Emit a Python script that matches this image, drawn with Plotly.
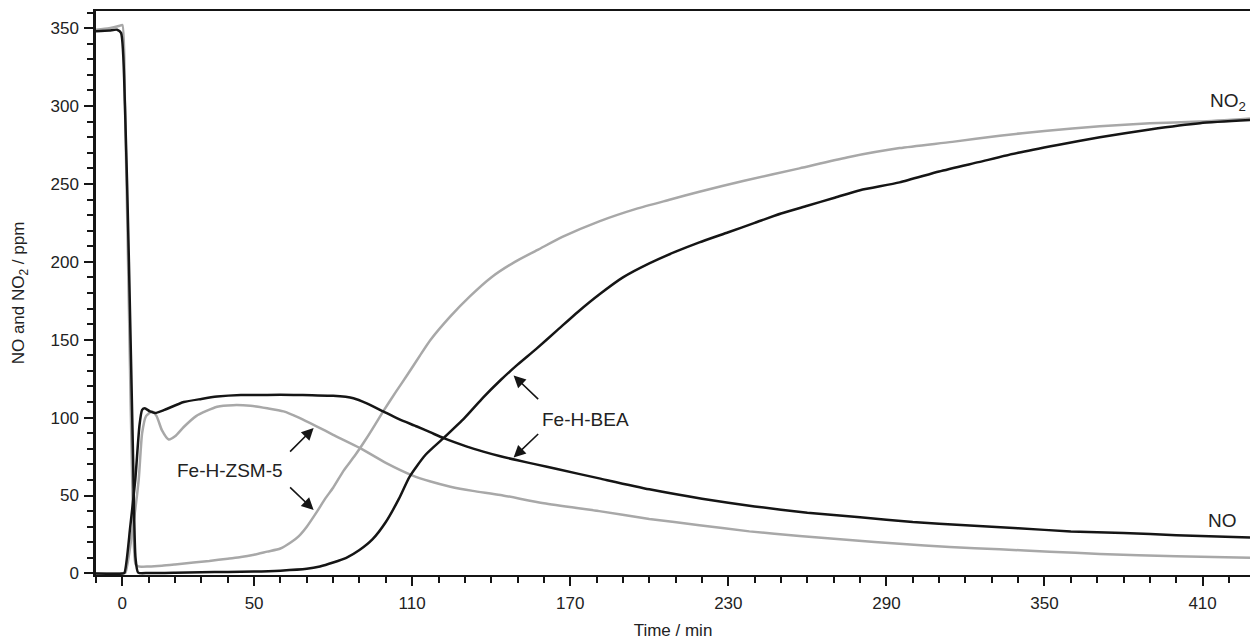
import plotly.graph_objects as go

# ---- data (time in min, concentration in ppm) ----
bea_no2_t = [-10, -5, -2, -0.5, 1, 2.5, 4, 5, 6, 10, 20, 30, 40, 50, 60, 70, 75, 80, 85, 90, 95, 100, 105, 109,
             115, 122, 130, 137, 143.5, 150, 157, 165, 173, 181, 190, 200, 210, 219, 230, 240, 250, 260, 270,
             280, 295, 310, 325, 340, 355, 371, 390, 409, 428]
bea_no2_y = [348, 348.5, 349, 347, 300, 200, 80, 10, 0.5, 0.3, 0.5, 0.8, 1, 1.2, 1.8, 3, 4.5, 7, 10, 15, 22, 33, 48, 62,
             76, 87, 100, 113, 124, 134, 144, 156, 168, 179, 190, 199, 206.5, 212.5, 219, 225, 231, 236, 241,
             246, 251, 258, 264, 270, 275, 280, 285, 289, 291]

zsm_no2_t = [-10, -5, -1, 0, 1, 2.5, 4, 5, 6, 10, 15, 20, 27, 33, 40, 45, 50, 55, 60, 64, 67, 70, 74, 77, 80, 84, 88,
             92, 95, 99, 104, 108, 113, 117, 124.5, 132, 140, 149, 158, 167, 181, 195, 208, 219, 236, 257, 275,
             295, 315, 333, 350, 371, 390, 409, 428]
zsm_no2_y = [349, 350, 351.5, 352, 300, 170, 40, 6, 4.5, 4.5, 5, 5.8, 7, 8, 9.5, 10.5, 12, 14, 16, 20, 24, 30, 40, 48,
             55, 66, 75, 85, 93, 104, 117, 127, 140, 150, 165, 178, 190, 200, 208, 216, 226, 234, 240, 245,
             252, 260, 267, 273, 277, 281, 284, 287, 289, 290, 292]

bea_no_t = [-10, 0, 0.8, 3, 4.9, 6.5, 7.5, 8.5, 10.5, 12.5, 16, 23.3, 30, 36, 45, 55, 65, 72, 80, 87.7, 93, 99,
            105, 111.8, 117, 122, 130.8, 137, 143.5, 150, 157, 165, 181, 200, 220, 240, 260, 280, 300, 320,
            340, 360, 380, 400, 428]
bea_no_y = [0, 0, 0.5, 30, 60, 95, 105, 106, 104, 103, 105, 110, 112, 113.5, 114.5, 114.6, 114.6, 114.3, 114, 112.5,
            109, 104, 99, 94.3, 90.5, 86.8, 81.4, 78.2, 75.2, 72.6, 70, 67, 61, 54, 48, 43, 39, 36, 33, 31,
            29, 27, 26, 24.5, 23]

zsm_no_t = [-10, 0, 1.1, 4, 6.2, 7.5, 9, 11.3, 13, 15, 17.6, 20, 23.3, 28, 36, 42, 48.6, 55, 61.2, 67, 73.9, 80,
            90.3, 100, 110, 117, 124.5, 133, 143.5, 160, 181, 200, 219, 238, 257, 276, 295, 314, 333, 352,
            371, 400, 428]
zsm_no_y = [0, 0, 0.3, 30, 60, 90, 101, 104, 101, 92, 86, 88, 94, 101, 107, 108, 107.6, 106, 104, 100, 94.3, 89,
            80.4, 71, 63, 59, 55.7, 53, 50.4, 45, 40, 35, 31, 27, 24, 21.5, 19, 17, 15.5, 14,
            12.5, 11, 10]

x_tickvals = [0, 50, 110, 170, 230, 290, 350, 410]
y_tickvals = [0, 50, 100, 150, 200, 250, 300, 350]

BLACK = "#151515"
GRAY = "#a8a8a8"
FONT = "Arial, Liberation Sans, sans-serif"

fig = go.Figure()
for t, y in [(zsm_no2_t, zsm_no2_y), (zsm_no_t, zsm_no_y)]:
    fig.add_trace(go.Scatter(x=t, y=y, mode="lines", line=dict(color=GRAY, width=2.5, shape="spline", smoothing=0.6),
                             showlegend=False, hoverinfo="skip"))
for t, y in [(bea_no2_t, bea_no2_y), (bea_no_t, bea_no_y)]:
    fig.add_trace(go.Scatter(x=t, y=y, mode="lines", line=dict(color=BLACK, width=2.5, shape="spline", smoothing=0.6),
                             showlegend=False, hoverinfo="skip"))

# text labels
texts = [
    ("Fe-H-ZSM-5", 41, 65.8, 19),
    ("Fe-H-BEA", 175.7, 98.6, 19),
    ("NO", 417.5, 33.7, 19),
    ("NO<sub>2</sub>", 419.5, 302.5, 19),
]
for txt, x, y, s in texts:
    fig.add_annotation(x=x, y=y, text=txt, showarrow=False, xref="x", yref="y",
                       font=dict(family=FONT, size=s, color="#222222"))

# arrows (head, tail)
arrows = [
    ((72.6, 93.3), (63.1, 77.2)),
    ((72.6, 40.8), (63.1, 56.2)),
    ((148.5, 127), (158.4, 111)),
    ((148.5, 74.4), (158.4, 90.4)),
]
for (hx, hy), (tx, ty) in arrows:
    fig.add_annotation(x=hx, y=hy, ax=tx, ay=ty, xref="x", yref="y", axref="x", ayref="y",
                       text="", showarrow=True, arrowhead=2, arrowsize=1.5, arrowwidth=1.6,
                       arrowcolor="#151515")

fig.update_layout(
    width=1250, height=642,
    margin=dict(l=96, r=0, t=11, b=67),
    paper_bgcolor="white", plot_bgcolor="white",
    font=dict(family=FONT, size=17, color="#222222"),
    xaxis=dict(
        range=[-10, 428], showgrid=False, zeroline=False,
        showline=True, linecolor=BLACK, linewidth=2, mirror=True,
        tickmode="array", tickvals=x_tickvals, ticks="outside", ticklen=9, tickwidth=2,
        tickcolor=BLACK, ticklabelstandoff=3,
        minor=dict(tickmode="linear", tick0=0, dtick=10, ticks="outside", ticklen=6, tickwidth=2, tickcolor=BLACK),
        title=dict(text="Time / min", font=dict(size=17), standoff=12),
        tickfont=dict(size=17),
    ),
    yaxis=dict(
        range=[-1, 361], showgrid=False, zeroline=False,
        showline=True, linecolor=BLACK, linewidth=2.5, mirror=False,
        tickmode="array", tickvals=y_tickvals, ticks="outside", ticklen=9, tickwidth=2,
        tickcolor=BLACK, ticklabelstandoff=2,
        minor=dict(tickmode="linear", tick0=0, dtick=10, ticks="outside", ticklen=6, tickwidth=2, tickcolor=BLACK),
        title=dict(text="NO and NO<sub>2</sub> / ppm", font=dict(size=17), standoff=22),
        tickfont=dict(size=17),
    ),
)

fig.write_html("out.html")
